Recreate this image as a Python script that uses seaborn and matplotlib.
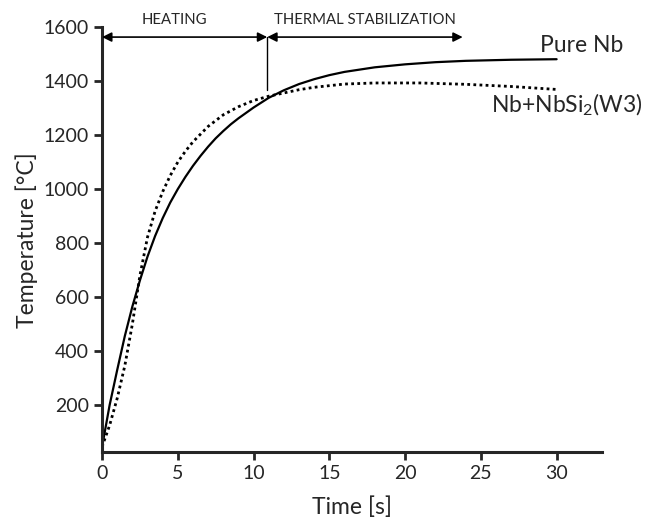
import matplotlib
matplotlib.use("Agg")
import matplotlib.pyplot as plt
import pandas as pd
import seaborn as sns

# Values
time_nb = [0, 0.5, 1.0, 1.5, 2.0, 2.5, 3.0, 3.5, 4.0, 4.5, 5.0, 5.5, 6.0, 6.5, 7.0,
           7.5, 8.0, 8.5, 9.0, 9.5, 10.0, 10.5, 11.0, 12.0, 13.0, 14.0, 15.0, 16.0,
           18.0, 20.0, 22.0, 24.0, 27.0, 30.0]
temp_nb = [45, 200, 330, 455, 565, 662, 750, 826, 892, 950, 1000, 1045, 1086, 1123,
           1157, 1188, 1215, 1240, 1262, 1282, 1302, 1320, 1338, 1366, 1389, 1407,
           1422, 1434, 1451, 1462, 1470, 1475, 1479, 1481]

time_w3 = [0, 0.5, 1.0, 1.5, 2.0, 2.5, 3.0, 3.5, 4.0, 4.5, 5.0, 5.5, 6.0, 7.0, 8.0,
           9.0, 10.0, 11.0, 12.0, 13.0, 14.0, 16.0, 18.0, 21.0, 24.0, 27.0, 30.0]
temp_w3 = [45, 125, 225, 345, 500, 680, 822, 918, 990, 1050, 1100, 1140, 1175, 1232,
           1275, 1305, 1328, 1344, 1356, 1368, 1377, 1389, 1393, 1393, 1388, 1380, 1369]

x_ticks = [0, 5, 10, 15, 20, 25, 30]
y_ticks = [200, 400, 600, 800, 1000, 1200, 1400, 1600]

t_switch = 10.9
t_stab_end = 23.8
arrow_y = 1563

sns.set_style("ticks")
plt.rcParams["font.family"] = ["Lato", "DejaVu Sans"]
plt.rcParams["mathtext.fontset"] = "custom"
plt.rcParams["mathtext.rm"] = "Lato"
plt.rcParams["mathtext.default"] = "regular"

nb = pd.DataFrame({"Time": time_nb, "Temp": temp_nb})
w3 = pd.DataFrame({"Time": time_w3, "Temp": temp_w3})

fig = plt.figure(figsize=(6.46, 5.21), dpi=100)
ax = fig.add_axes([0.158, 0.132, 0.774, 0.816])

sns.lineplot(data=nb, x="Time", y="Temp", ax=ax, color="black", linewidth=1.6)
sns.lineplot(data=w3, x="Time", y="Temp", ax=ax, color="black", linewidth=2.0,
             linestyle=(0, (1, 1.2)))

ax.set_xlim(0, 33)
ax.set_ylim(25, 1600)
ax.set_xticks(x_ticks)
ax.set_yticks(y_ticks)
ax.tick_params(axis="both", labelsize=14, width=2, length=6, direction="out")
for side in ["left", "bottom"]:
    ax.spines[side].set_linewidth(2.2)
sns.despine(ax=ax)
ax.set_xlabel("Time [s]", fontsize=16.5, labelpad=10)
ax.set_ylabel("Temperature [°C]", fontsize=16.5, labelpad=4)

# phase arrows
arrow = dict(arrowstyle="<|-|>", color="black", lw=1.2, mutation_scale=14,
             shrinkA=0, shrinkB=0)
ax.annotate("", xy=(0, arrow_y), xytext=(t_switch, arrow_y), arrowprops=arrow)
ax.annotate("", xy=(t_switch, arrow_y), xytext=(t_stab_end, arrow_y), arrowprops=arrow)
ax.plot([t_switch, t_switch], [arrow_y, 1367], color="black", lw=1.0)
ax.text(t_switch / 2 - 0.7, 1600, "HEATING", ha="center", va="bottom", fontsize=10.7,
        clip_on=False)
ax.text((t_switch + t_stab_end) / 2, 1600, "THERMAL STABILIZATION", ha="center",
        va="bottom", fontsize=10.7, clip_on=False)

ax.text(28.9, 1533, "Pure Nb", ha="left", va="center", fontsize=16.5, clip_on=False)
ax.text(25.7, 1311, "Nb+NbSi$_2$(W3)", ha="left", va="center", fontsize=16.5,
        clip_on=False)

fig.savefig("out.png", dpi=100)
